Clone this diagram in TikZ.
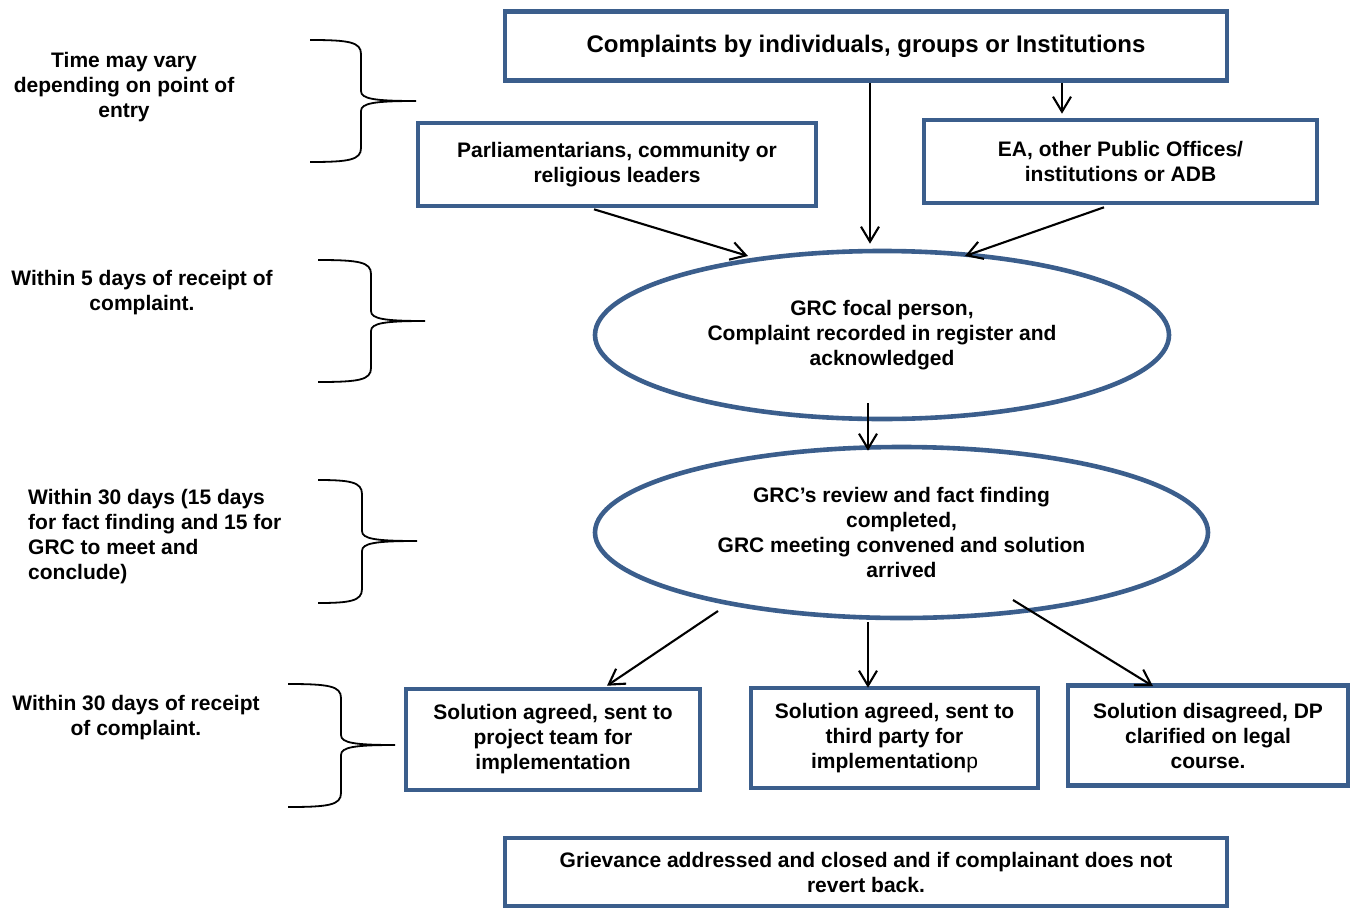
\documentclass[tikz,border=0pt]{standalone}
\usepackage{fontspec}
\setmainfont{Liberation Sans}
\usetikzlibrary{arrows.meta,shapes.geometric,calc}
\definecolor{frameblue}{RGB}{59,94,140}

% brace: left x, spine x, tip x, top y, middle y, bottom y
\newcommand\timebrace[6]{%
  \draw[bracestyle] (#1,#4) .. controls ({#2-12},#4) and (#2,{#4+2}) .. (#2,{#4+14})
    -- (#2,{#5-10}) .. controls (#2,{#5-2}) and ({#2+14},#5) .. (#3,#5)
    .. controls ({#2+14},#5) and (#2,{#5+2}) .. (#2,{#5+10})
    -- (#2,{#6-14}) .. controls (#2,{#6-2}) and ({#2-12},#6) .. (#1,#6);}

\begin{document}
\begin{tikzpicture}[x=1pt,y=-1pt,
  txt/.style={font=\bfseries\fontsize{21}{25}\selectfont, align=center, text=black},
  box/.style={txt, draw=frameblue, line width=4.6pt, rectangle, inner sep=0pt, fill=white},
  oval/.style={txt, draw=frameblue, line width=4.6pt, ellipse, inner sep=0pt, fill=white},
  arr/.style={draw=black, line width=2.1pt, -{Straight Barb[length=15pt,width=18pt,line width=2.1pt]}},
  bracestyle/.style={draw=black, line width=1.8pt},
  note/.style={font=\bfseries\fontsize{21}{25}\selectfont, text=black, inner sep=0pt}]
\useasboundingbox (0,0) rectangle (1357,910);

% boxes and ovals of the flow
\node[box, minimum width=722pt, minimum height=69pt, font=\bfseries\fontsize{24}{28}\selectfont] (top) at (866,46)
  {Complaints by individuals, groups or Institutions};
\node[box, minimum width=398pt, minimum height=83pt] (parl) at (617,164.5)
  {Parliamentarians, community or\\religious leaders};
\node[box, minimum width=393pt, minimum height=83pt] (ea) at (1120.5,161.5)
  {EA, other Public Offices/\\institutions or ADB};
\node[oval, minimum width=574pt, minimum height=168pt] (e1) at (882,335)
  {GRC focal person,\\Complaint recorded in register and\\acknowledged};
\node[oval, minimum width=613pt, minimum height=171pt] (e2) at (901.5,532.5)
  {GRC’s review and fact finding\\completed,\\GRC meeting convened and solution\\arrived};
\node[box, minimum width=294pt, minimum height=101pt] (sa) at (553,739.5)
  {Solution agreed, sent to\\project team for\\implementation};
\node[box, minimum width=287pt, minimum height=100pt] (sb) at (894.5,738)
  {Solution agreed, sent to\\third party for\\implementation{\mdseries p}};
\node[box, minimum width=280pt, minimum height=100pt] (sc) at (1208,735.5)
  {Solution disagreed, DP\\clarified on legal\\course.};
\node[box, minimum width=722pt, minimum height=68pt] (close) at (866,872)
  {Grievance addressed and closed and if complainant does not\\revert back.};

% connectors
\draw[arr] ($(top.south)+(4,0)$) -- ($(e1.north)+(-12,-5)$);
\draw[arr] ($(top.south)+(196,0)$) -- ($(ea.north)+(-58.5,-4)$);
\draw[arr] ($(parl.south)+(-23,1)$) -- ($(e1.center)+(-134,-79)$);
\draw[arr] ($(ea.south)+(-16.5,2)$) -- ($(e1.center)+(83,-79)$);
\draw[arr] ($(e1.center)+(-14,68)$) -- ($(e2.north)+(-33.5,6)$);
\draw[arr] ($(e2.center)+(-183.5,78.5)$) -- ($(sa.north)+(54,-1)$);
\draw[arr] ($(e2.south)+(-33.5,2)$) -- ($(sb.north)+(-26.5,2)$);
\draw[arr] ($(e2.center)+(111.5,67.5)$) -- ($(sc.north)+(-55,3)$);

% time-frame braces
\timebrace{310}{361}{416}{40}{101}{162}
\timebrace{318}{371}{425}{260}{321}{382}
\timebrace{318}{362}{417}{480}{541}{603}
\timebrace{288}{341}{395}{684}{745}{807}

% time-frame notes
\node[note, align=center] (n1) at (124,87.5) {Time may vary\\depending on point of\\entry};
\node[note, align=center] (n2) at (142,293) {Within 5 days of receipt of\\complaint.};
\node[note, align=left, anchor=west] (n3) at (28,537) {Within 30 days (15 days\\for fact finding and 15 for\\GRC to meet and\\conclude)};
\node[note, align=center] (n4) at (136,718) {Within 30 days of receipt\\of complaint.};
\end{tikzpicture}
\end{document}
